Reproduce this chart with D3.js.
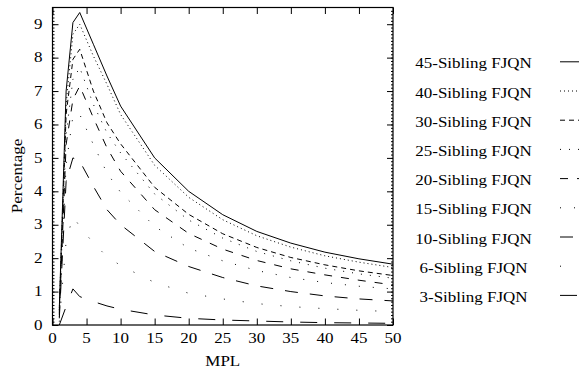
<!DOCTYPE html>
<html>
<head>
<meta charset="utf-8">
<script src="https://cdn.jsdelivr.net/npm/d3@7"></script>
<style>
  html, body { margin: 0; padding: 0; background: #fff; }
  text { font-family: "Liberation Serif", "Times New Roman", serif; fill: #000; }
</style>
</head>
<body>
<svg id="chart" width="579" height="371"></svg>
<script>
// MPL values (x axis)
const mpl = [1, 2, 3, 4, 6, 8, 10, 15, 20, 25, 30, 35, 40, 45, 50];

// percentage per series
const sib45 = [0.5, 7.0, 9.05, 9.35, 8.4, 7.45, 6.55, 5.0, 4.0, 3.3, 2.8, 2.45, 2.18, 1.98, 1.82];
const sib40 = [0.45, 6.6, 8.7, 9.0, 8.05, 7.2, 6.3, 4.78, 3.82, 3.15, 2.67, 2.33, 2.07, 1.88, 1.72];
const sib30 = [0.4, 6.3, 7.95, 8.25, 7.0, 6.05, 5.42, 4.12, 3.31, 2.73, 2.32, 2.02, 1.8, 1.62, 1.48];
const sib25 = [0.35, 5.7, 7.35, 7.7, 6.6, 5.75, 5.15, 3.92, 3.14, 2.6, 2.2, 1.92, 1.7, 1.53, 1.4];
const sib20 = [0.3, 5.4, 6.75, 7.15, 6.2, 5.3, 4.6, 3.45, 2.74, 2.27, 1.93, 1.68, 1.5, 1.34, 1.2];
const sib15 = [0.25, 4.8, 6.25, 6.3, 5.4, 4.55, 3.97, 2.95, 2.3, 1.92, 1.63, 1.42, 1.27, 1.16, 1.08];
const sib10 = [0.2, 4.3, 5.0, 4.9, 4.15, 3.45, 3.0, 2.2, 1.75, 1.42, 1.17, 1.0, 0.87, 0.78, 0.72];
const sib6 = [0.1, 2.5, 3.25, 2.95, 2.45, 2.05, 1.78, 1.27, 0.95, 0.78, 0.64, 0.55, 0.49, 0.44, 0.4];
const sib3 = [0.0, 0.55, 1.08, 0.85, 0.7, 0.57, 0.47, 0.3, 0.2, 0.15, 0.12, 0.09, 0.07, 0.06, 0.05];

const seriesNames = ["45-Sibling FJQN", "40-Sibling FJQN", "30-Sibling FJQN", "25-Sibling FJQN",
  "20-Sibling FJQN", "15-Sibling FJQN", "10-Sibling FJQN", "6-Sibling FJQN", "3-Sibling FJQN"];
const seriesValues = [sib45, sib40, sib30, sib25, sib20, sib15, sib10, sib6, sib3];
// gnuplot style dash patterns
const dashes = ["none", "1,3", "5,4", "1,8", "8,9", "1,13", "13,12", "1,18", "17,17"];

const xTicks = [0, 5, 10, 15, 20, 25, 30, 35, 40, 45, 50];
const yTicks = [0, 1, 2, 3, 4, 5, 6, 7, 8, 9];

const svg = d3.select("#chart");
const margin = {top: 7.5, right: 186, bottom: 46, left: 52.5};
const width = 579 - margin.left - margin.right;
const height = 371 - margin.top - margin.bottom;
const fs = 17, sy = 0.81; // text is squashed vertically in the original

const chart = svg.append("g")
  .attr("transform", `translate(${margin.left},${margin.top})`);

const x = d3.scaleLinear().domain([0, 50]).range([0, width]);
const y = d3.scaleLinear().domain([0, 9.5]).range([height, 0]);

// inward ticks on all four sides
chart.append("g")
  .attr("transform", `translate(0,${height})`)
  .call(d3.axisBottom(x).tickValues(xTicks).tickSize(-6.5).tickFormat(""))
  .call(g => g.select(".domain").remove());
chart.append("g")
  .call(d3.axisTop(x).tickValues(xTicks).tickSize(-6.5).tickFormat(""))
  .call(g => g.select(".domain").remove());
chart.append("g")
  .call(d3.axisLeft(y).tickValues(yTicks).tickSize(-6).tickFormat(""))
  .call(g => g.select(".domain").remove());
chart.append("g")
  .attr("transform", `translate(${width},0)`)
  .call(d3.axisRight(y).tickValues(yTicks).tickSize(-6).tickFormat(""))
  .call(g => g.select(".domain").remove());
// minor ticks on y
const yMinor = d3.range(0, 9.5, 0.1);
chart.append("g")
  .call(d3.axisLeft(y).tickValues(yMinor).tickSize(-2).tickFormat(""))
  .call(g => g.select(".domain").remove());
chart.append("g")
  .attr("transform", `translate(${width},0)`)
  .call(d3.axisRight(y).tickValues(yMinor).tickSize(-2).tickFormat(""))
  .call(g => g.select(".domain").remove());

chart.selectAll(".tick line").attr("stroke", "#000").attr("stroke-width", 1);

chart.append("rect")
  .attr("width", width).attr("height", height)
  .attr("fill", "none").attr("stroke", "#000").attr("stroke-width", 1.2);

// tick labels
chart.selectAll(".xlab").data(xTicks).enter().append("text")
  .attr("text-anchor", "middle")
  .attr("font-size", fs)
  .attr("transform", d => `translate(${x(d)},${height + 18}) scale(1,${sy})`)
  .text(d => d);
chart.selectAll(".ylab").data(yTicks).enter().append("text")
  .attr("text-anchor", "end")
  .attr("font-size", fs)
  .attr("transform", d => `translate(-10,${y(d) + 4.7}) scale(1,${sy})`)
  .text(d => d);

// axis titles
svg.append("text")
  .attr("text-anchor", "middle")
  .attr("font-size", fs)
  .attr("transform", `translate(${margin.left + width / 2},366) scale(1,${sy})`)
  .text("MPL");
svg.append("text")
  .attr("text-anchor", "middle")
  .attr("font-size", fs)
  .attr("transform", `translate(22,176) rotate(-90) scale(1,${sy})`)
  .text("Percentage");

// lines
const line = d3.line()
  .x((d, i) => x(mpl[i]))
  .y(d => y(d));

seriesValues.forEach((vals, k) => {
  chart.append("path")
    .datum(vals)
    .attr("fill", "none")
    .attr("stroke", "#000")
    .attr("stroke-width", 1)
    .attr("stroke-dasharray", dashes[k])
    .attr("d", line);
});

// legend
const legend = svg.append("g");
seriesNames.forEach((name, k) => {
  const by = 68.3 + k * 29.2;
  legend.append("text")
    .attr("text-anchor", "middle")
    .attr("font-size", fs)
    .attr("transform", `translate(473.5,${by}) scale(1,${sy})`)
    .text(name);
  legend.append("line")
    .attr("x1", 560).attr("x2", 610)
    .attr("y1", by - 6.5).attr("y2", by - 6.5)
    .attr("stroke", "#000")
    .attr("stroke-width", 1)
    .attr("stroke-dasharray", dashes[k]);
});
</script>
</body>
</html>
